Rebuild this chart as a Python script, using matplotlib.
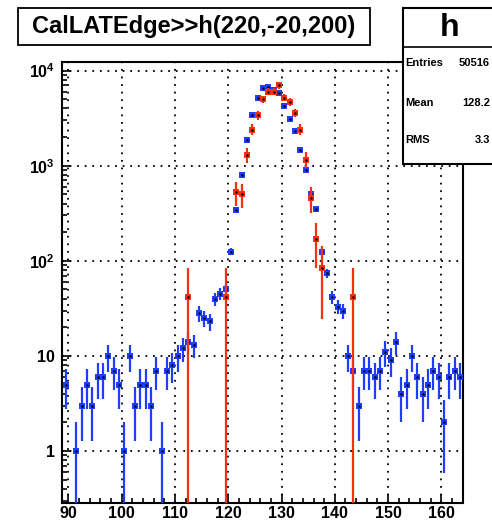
import numpy as np
import matplotlib.pyplot as plt
from matplotlib.patches import Rectangle
from matplotlib.lines import Line2D

plt.rcParams['font.family'] = ['Liberation Sans', 'DejaVu Sans']
plt.rcParams['font.weight'] = 'bold'
plt.rcParams['mathtext.fontset'] = 'custom'
plt.rcParams['mathtext.rm'] = 'Liberation Sans:bold'
plt.rcParams['mathtext.it'] = 'Liberation Sans:bold'
plt.rcParams['mathtext.bf'] = 'Liberation Sans:bold'

# histogramme bleu : centres des bins et contenus
blue_x = [89.5, 91.5, 92.5, 93.5, 94.5, 95.5, 96.5, 97.5, 98.5, 99.5,
          100.5, 101.5, 102.5, 103.5, 104.5, 105.5, 106.5, 107.5, 108.5, 109.5,
          110.5, 111.5, 112.5, 113.5, 114.5, 115.5, 116.5, 117.5, 118.5, 119.5,
          120.5, 121.5, 122.5, 123.5, 124.5, 125.5, 126.5, 127.5, 128.5, 129.5,
          130.5, 131.5, 132.5, 133.5, 134.5, 135.5, 136.5, 137.5, 138.5, 139.5,
          140.5, 141.5, 142.5, 143.5, 144.5, 145.5, 146.5, 147.5, 148.5, 149.5,
          150.5, 151.5, 152.5, 153.5, 154.5, 155.5, 156.5, 157.5, 158.5, 159.5,
          160.5, 161.5, 162.5, 163.5]
blue_n = [5, 1, 3, 5, 3, 6, 6, 10, 7, 5,
          1, 10, 3, 5, 5, 3, 7, 1, 7, 8,
          10, 12, 14, 13, 28, 25, 23, 40, 45, 50,
          125, 343, 790, 1860, 3440, 5100, 6500, 6700, 6200, 5800,
          4230, 3060, 2300, 1450, 910, 500, 350, 125, 74, 42,
          33, 30, 10, 7, 3, 7, 7, 6, 7, 11,
          9, 14, 4, 5, 10, 6, 4, 5, 7, 6,
          2, 6, 7, 6]

# histogramme rouge (pondere, ~42 par entree)
red_x = [112.5, 119.5, 121.5, 122.5, 123.5, 124.5, 125.5, 126.5, 127.5, 128.5,
         129.5, 130.5, 131.5, 132.5, 133.5, 134.5, 135.5, 136.5, 137.5, 143.5]
red_n = [42, 42, 530, 500, 1300, 2400, 3400, 5000, 6000, 6000,
         7000, 5200, 4700, 3600, 2400, 1160, 460, 168, 84, 42]
red_w = 42.0

stats_lab = ['Entries', 'Mean', 'RMS']
stats_val = ['50516', '128.2', '3.3']

ymin, ymax = 0.284, 12300
blue = '#1f3dff'
red = '#f8300f'

W, H = 492, 522
fig = plt.figure(figsize=(W / 100, H / 100), dpi=100)
ax = fig.add_axes([62 / W, 1 - 503 / H, (463 - 62) / W, (503 - 62) / H])
ax.set_yscale('log')
ax.set_xlim(88.8, 164.05)
ax.set_ylim(ymin, ymax)


def draw(x, n, err, col, z):
    x = np.array(x, float)
    n = np.array(n, float)
    lo = np.where(n - err <= ymin, n - ymin * 1.0001, err)
    ax.errorbar(x, n, yerr=[lo, err], xerr=0.5, fmt='s', ms=3.8, color=col,
                ecolor=col, elinewidth=1.6, capsize=3.3, capthick=1.6,
                mew=0, zorder=z)
    ax.plot(x, n, '.', color='k', ms=1.6, zorder=z + 0.1)


draw(blue_x, blue_n, np.sqrt(np.array(blue_n, float)), blue, 3)
draw(red_x, red_n, np.sqrt(np.array(red_n, float) * red_w), red, 4)

ax.grid(True, which='major', color='k', linestyle=(0, (1, 3.2)), linewidth=1.3)
ax.set_axisbelow(True)

ax.set_xticks(np.arange(90, 161, 10))
ax.set_xticks(np.arange(90, 165, 2), minor=True)
ax.set_yticks([1, 10, 100, 1000, 10000])
ax.set_yticklabels(['1', '10', '$10^{2}$', '$10^{3}$', '$10^{4}$'])
ax.tick_params(which='both', direction='in', top=False, right=False,
               width=1.2, labelsize=11.5)
ax.tick_params(which='major', length=6.5)
ax.tick_params(which='minor', length=3.6)
ax.tick_params(axis='x', pad=2.5)
ax.tick_params(axis='y', pad=5)
for s in ax.spines.values():
    s.set_linewidth(1.5)

# titre
fig.patches.append(Rectangle((18 / W, 1 - 45 / H), (370 - 18) / W, 37 / H,
                             transform=fig.transFigure, facecolor='white',
                             edgecolor='k', linewidth=1.3, zorder=5))
fig.text(194 / W, 1 - 27 / H, 'CalLATEdge>>h(220,-20,200)', ha='center',
         va='center', fontsize=17, fontweight='bold', zorder=6)

# boite de statistiques
fig.patches.append(Rectangle((403 / W, 1 - 164 / H), 120 / W, 156 / H,
                             transform=fig.transFigure, facecolor='white',
                             edgecolor='k', linewidth=1.5, zorder=5))
fig.lines.append(Line2D([403 / W, 1], [1 - 47 / H] * 2, transform=fig.transFigure,
                        color='k', linewidth=1.2, zorder=6))
fig.text(450 / W, 1 - 28 / H, 'h', ha='center', va='center', fontsize=23,
         fontweight='bold', zorder=6)
for lab, val, yy in zip(stats_lab, stats_val, [63, 103, 140]):
    fig.text(405 / W, 1 - yy / H, lab, ha='left', va='center', fontsize=8,
             fontweight='bold', zorder=6)
    fig.text(490 / W, 1 - yy / H, val, ha='right', va='center', fontsize=8,
             fontweight='bold', zorder=6)

fig.savefig('out.png', dpi=100)
